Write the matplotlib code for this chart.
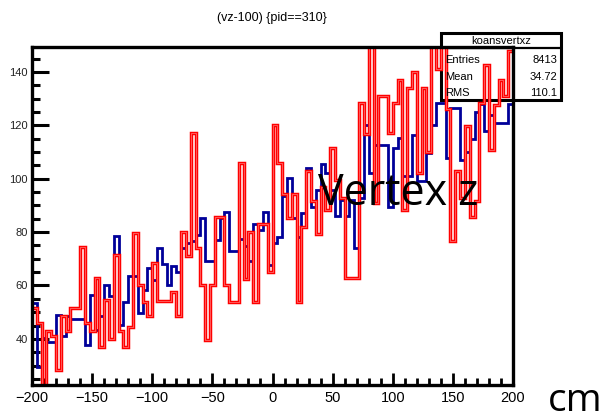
import numpy as np
import matplotlib
matplotlib.use("Agg")
import matplotlib.pyplot as plt
from matplotlib.ticker import MultipleLocator
from matplotlib.patches import Rectangle

# binning of the vertex-z histograms (cm)
x_min, x_max, n_bins = -200, 200, 100

# pid==310, first selection (blue)
counts_blue = [
    53.4, 29.3, 40.3, 39.0, 39.0, 49.0, 41.0, 48.4, 47.4, 47.4,
    47.4, 37.7, 56.5, 43.4, 48.4, 60.2, 55.9, 78.4, 45.2, 54.0,
    63.4, 63.4, 49.6, 58.4, 66.5, 62.0, 74.2, 68.0, 60.0, 67.4,
    65.0, 74.2, 75.9, 76.5, 79.0, 85.3, 69.0, 69.0, 77.0, 85.3,
    87.4, 72.8, 72.8, 77.4, 74.9, 69.0, 83.0, 80.9, 87.4, 67.8,
    75.9, 78.0, 93.4, 100.2, 85.3, 78.0, 87.0, 104.2, 89.6, 95.9,
    105.5, 102.0, 95.9, 85.9, 92.0, 85.9, 92.0, 74.0, 92.8, 120.2,
    102.0, 112.8, 112.8, 112.8, 89.6, 111.5, 115.2, 101.0, 101.0, 116.5,
    99.0, 99.0, 109.6, 120.0, 128.4, 128.4, 107.8, 126.5, 126.5, 107.0,
    110.2, 115.0, 125.2, 128.0, 117.8, 124.0, 121.0, 121.0, 121.0, 128.0,
]

# pid==310, second selection (red)
counts_red = [
    51.5, 45.9, 21.0, 42.8, 40.9, 28.4, 48.4, 42.8, 51.5, 51.5,
    74.3, 45.9, 42.8, 62.8, 37.0, 54.5, 40.0, 71.5, 42.8, 37.0,
    44.5, 79.8, 60.0, 54.0, 48.4, 68.6, 54.2, 54.2, 54.2, 57.4,
    48.4, 79.9, 71.1, 117.0, 74.2, 60.2, 39.6, 60.2, 85.6, 85.6,
    60.2, 54.0, 54.0, 105.9, 62.4, 80.2, 54.0, 83.0, 83.0, 65.2,
    120.2, 105.9, 94.2, 85.2, 94.2, 54.0, 82.0, 103.0, 91.5, 79.2,
    97.0, 88.4, 111.5, 99.6, 92.8, 62.8, 62.8, 62.8, 128.4, 116.8,
    152.0, 90.9, 131.2, 131.2, 117.0, 128.4, 137.0, 88.4, 134.2, 140.2,
    102.0, 134.0, 110.0, 152.0, 141.0, 152.0, 126.0, 76.8, 103.0, 92.8,
    119.6, 85.5, 91.5, 128.4, 142.8, 110.9, 127.8, 137.0, 131.0, 148.0,
]

x_ticks = [-200, -150, -100, -50, 0, 50, 100, 150, 200]
y_ticks = [40, 60, 80, 100, 120, 140]

title = "(vz-100) {pid==310}"
stats_name = "koansvertxz"
stats_labels = ["Entries", "Mean", "RMS"]
stats_values = ["8413", "34.72", "110.1"]

narrow = ["Liberation Sans Narrow", "Liberation Sans", "DejaVu Sans"]
big = ["Open Sans", "DejaVu Sans"]

W, H = 607, 420
fig = plt.figure(figsize=(W / 100, H / 100), dpi=100)
fig.patch.set_facecolor("white")

ax_l, ax_r, ax_t, ax_b = 32, 513, 47, 385
ax = fig.add_axes([ax_l / W, 1 - ax_b / H, (ax_r - ax_l) / W, (ax_b - ax_t) / H])

edges = np.linspace(x_min, x_max, n_bins + 1)
ax.stairs(counts_blue, edges, baseline=None, color="#000099", lw=2.0, zorder=3)

# statistics box (figure pixel coordinates)
bx0, bx1, by0, by1 = 441, 561, 33, 100
row_sep = 48


def fx(px):
    return px / W


def fy(py):
    return 1 - py / H


box = Rectangle((fx(bx0), fy(by1)), fx(bx1) - fx(bx0), fy(by0) - fy(by1),
                transform=fig.transFigure, facecolor="white", edgecolor="black",
                lw=2.2, zorder=4)
fig.add_artist(box)
fig.add_artist(plt.Line2D([fx(bx0), fx(bx1)], [fy(row_sep), fy(row_sep)],
                          transform=fig.transFigure, color="black", lw=1.6, zorder=4))
fig.text(fx((bx0 + bx1) / 2), fy(41), stats_name, ha="center", va="center",
         fontsize=8, family=narrow, zorder=5)
for i, (lab, val) in enumerate(zip(stats_labels, stats_values)):
    yy = fy(60 + 16.5 * i)
    fig.text(fx(bx0 + 4), yy, lab, ha="left", va="center", fontsize=8,
             family=narrow, zorder=5)
    fig.text(fx(bx1 - 4), yy, val, ha="right", va="center", fontsize=8,
             family=narrow, zorder=5)

# red histogram drawn on top of the statistics box
ax.stairs(counts_red, edges, baseline=None, color="#ff0000", lw=2.5, zorder=6)
ax.stairs(counts_red, edges, baseline=None, color="#ff9a9a", lw=0.4, zorder=6)
ax.set_zorder(5)
ax.patch.set_alpha(0)

ax.set_xlim(x_min, x_max)
ax.set_ylim(22.7, 149.4)

ax.xaxis.set_major_locator(MultipleLocator(50))
ax.xaxis.set_minor_locator(MultipleLocator(10))
ax.yaxis.set_major_locator(MultipleLocator(20))
ax.yaxis.set_minor_locator(MultipleLocator(5))
ax.set_xticks(x_ticks)
ax.set_yticks(y_ticks)
ax.set_xticklabels([str(v).replace("-", "\u2212") for v in x_ticks],
                   fontsize=10.5, family=narrow)
ax.set_yticklabels([str(v) for v in y_ticks], fontsize=8, family=narrow, color="#222222")

ax.tick_params(axis="x", which="major", direction="in", length=9, width=2, pad=4,
               top=False)
ax.tick_params(axis="x", which="minor", direction="in", length=5, width=2, top=False)
ax.tick_params(axis="y", which="major", direction="in", length=12, width=2.2, pad=3,
               right=False)
ax.tick_params(axis="y", which="minor", direction="in", length=6, width=2.2, right=False)

for s in ax.spines.values():
    s.set_linewidth(2.4)
    s.set_color("black")
    s.set_zorder(7)

fig.text(fx(272), fy(18), title, ha="center", va="center", fontsize=9, family=narrow)
fig.text(fx(318), fy(205), "Vertex z", ha="left", va="baseline", fontsize=31,
         family=big, zorder=10)
fig.text(fx(548), fy(411), "cm", ha="left", va="baseline", fontsize=28, family=big)

fig.savefig("out.png", dpi=100)
